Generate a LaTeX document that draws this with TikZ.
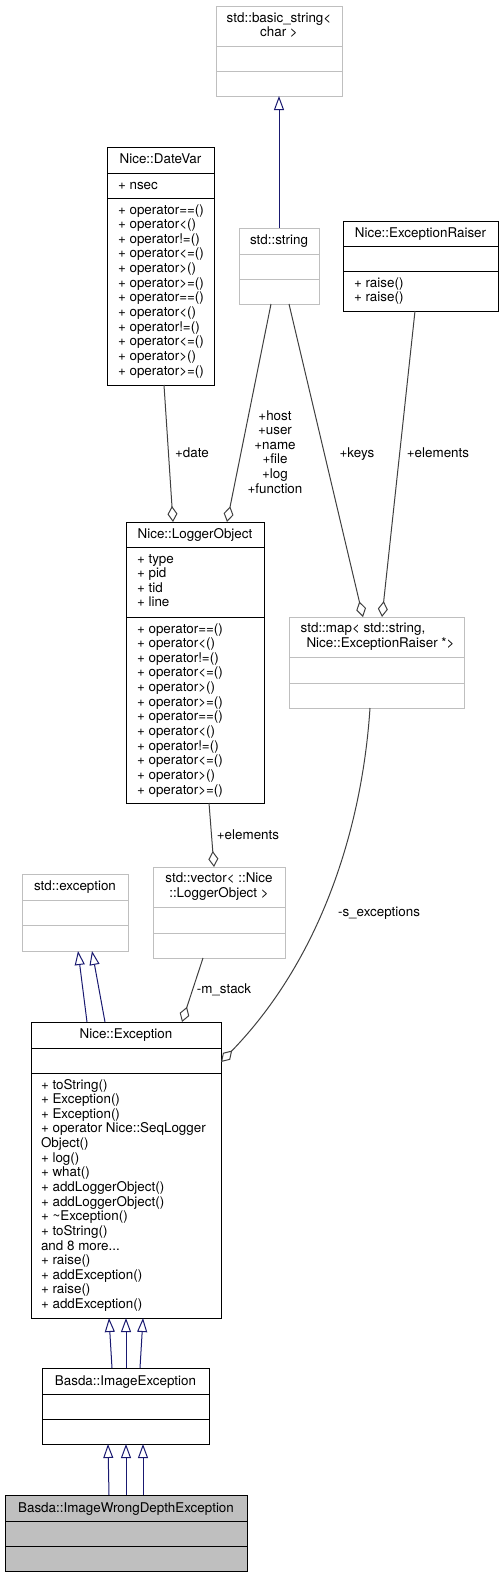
\documentclass[tikz,border=0pt]{standalone}
\usepackage{fontspec}
\setmainfont{TeX Gyre Heros}
\usetikzlibrary{arrows.meta,calc}
\definecolor{inhc}{HTML}{191970}
\definecolor{aggc}{HTML}{404040}
\definecolor{gbox}{HTML}{BFBFBF}
\definecolor{fillg}{HTML}{BFBFBF}
\tikzset{
  txt/.style={font=\fontsize{13.4}{14.64}\selectfont, inner sep=0pt, outer sep=0pt},
  ttl/.style={txt, anchor=base},
  mem/.style={txt, anchor=north west, align=left},
  lbl/.style={txt, anchor=base},
  mlbl/.style={txt, anchor=north, align=center},
  inhline/.style={draw=inhc, line width=1pt, -{Triangle[open, length=14pt, width=10pt]}},
  aggline/.style={draw=aggc, line width=1pt, -{Diamond[open, length=16pt, width=10pt]}},
}
% name, colour, fill, x, y, w, h, sep1, sep2
\newcommand{\umlbox}[9]{%
  \node[draw=#2, fill=#3, line width=1pt, inner sep=0pt, outer sep=0pt, anchor=north west,
        minimum width=#6pt, minimum height=#7pt] (#1) at (#4,#5) {};
  \draw[draw=#2, line width=1pt] (#1.west |- 0,#8) -- (#1.east |- 0,#8);
  \draw[draw=#2, line width=1pt] (#1.west |- 0,#9) -- (#1.east |- 0,#9);
}
\begin{document}
\begin{tikzpicture}[x=1pt,y=-1pt]
\useasboundingbox (0,0) rectangle (503,1577);

% std::basic_string<char>
\umlbox{bstr}{gbox}{white}{216}{6}{126}{90}{46}{71}
\node[ttl] (bstr-t1) at (279,22) {std::basic\_string<};
\node[ttl] (bstr-t2) at (279,36.6) {char >};

% Nice::DateVar
\umlbox{datevar}{black}{white}{107}{147}{107}{238}{173}{198}
\node[ttl] (datevar-t) at (160.5,163.5) {Nice::DateVar};
\node[mem] (datevar-a) at (118,178.75) {\strut+ nsec};
\node[mem] (datevar-m) at (118,203.75) {\strut+ operator==()\\+ operator<()\\+ operator!=()\\+ operator<=()\\+ operator>()\\+ operator>=()\\+ operator==()\\+ operator<()\\+ operator!=()\\+ operator<=()\\+ operator>()\\+ operator>=()};

% std::string
\umlbox{str}{gbox}{white}{239}{228}{80}{76}{254}{279}
\node[ttl] (str-t) at (279,244.5) {std::string};

% Nice::ExceptionRaiser
\umlbox{exr}{black}{white}{343}{221}{155}{90}{246}{271}
\node[ttl] (exr-t) at (420.5,237.5) {Nice::ExceptionRaiser};
\node[mem] (exr-m) at (354,276.75) {\strut+ raise()\\+ raise()};

% Nice::LoggerObject
\umlbox{logobj}{black}{white}{126}{522}{138}{281}{547}{617}
\node[ttl] (logobj-t) at (195,538.5) {Nice::LoggerObject};
\node[mem] (logobj-a) at (137,552.75) {\strut+ type\\+ pid\\+ tid\\+ line};
\node[mem] (logobj-m) at (137,622.75) {\strut+ operator==()\\+ operator<()\\+ operator!=()\\+ operator<=()\\+ operator>()\\+ operator>=()\\+ operator==()\\+ operator<()\\+ operator!=()\\+ operator<=()\\+ operator>()\\+ operator>=()};

% std::map
\umlbox{map}{gbox}{white}{289}{617}{175}{91}{657}{683}
\node[ttl] (map-t1) at (363,632.5) {std::map< std::string,};
\node[ttl] (map-t2) at (380.5,647.5) {Nice::ExceptionRaiser *>};

% std::vector
\umlbox{vec}{gbox}{white}{153}{867}{132}{91}{907}{933}
\node[ttl] (vec-t1) at (219,882.5) {std::vector< ::Nice};
\node[ttl] (vec-t2) at (219,897.3) {::LoggerObject >};

% std::exception
\umlbox{sexc}{gbox}{white}{22}{874}{106}{77}{900}{925}
\node[ttl] (sexc-t) at (75,890.5) {std::exception};

% Nice::Exception
\umlbox{exc}{black}{white}{31}{1022}{190}{296}{1048}{1073}
\node[ttl] (exc-t) at (126,1038.5) {Nice::Exception};
\node[mem] (exc-m) at (41,1078.75) {\strut+ toString()\\+ Exception()\\+ Exception()\\+ operator Nice::SeqLogger\\Object()\\+ log()\\+ what()\\+ addLoggerObject()\\+ addLoggerObject()\\+ \textasciitilde Exception()\\+ toString()\\and 8 more...\\+ raise()\\+ addException()\\+ raise()\\+ addException()};

% Basda::ImageException
\umlbox{imgexc}{black}{white}{42}{1368}{167}{76}{1394}{1419}
\node[ttl] (imgexc-t) at (125.5,1385) {Basda::ImageException};

% Basda::ImageWrongDepthException
\umlbox{iwde}{black}{fillg}{5}{1495}{242}{76}{1521}{1546}
\node[ttl] (iwde-t) at (126,1512) {Basda::ImageWrongDepthException};

% inheritance
\draw[inhline] (str.north) -- (bstr.south);
\draw[inhline] ([xshift=-39pt]exc.north) -- ([xshift=3pt]sexc.south);
\draw[inhline] ([xshift=-21pt]exc.north) -- ([xshift=17pt]sexc.south);
\draw[inhline] ([xshift=-13.5pt]imgexc.north) -- ([xshift=-17pt]exc.south);
\draw[inhline] ([xshift=0.5pt]imgexc.north) -- (exc.south);
\draw[inhline] ([xshift=14.5pt]imgexc.north) -- ([xshift=17pt]exc.south);
\draw[inhline] ([xshift=-17pt]iwde.north) -- ([xshift=-17.5pt]imgexc.south);
\draw[inhline] (iwde.north) -- ([xshift=0.5pt]imgexc.south);
\draw[inhline] ([xshift=17pt]iwde.north) -- ([xshift=17.5pt]imgexc.south);

% aggregation
\draw[aggline] ([xshift=3.5pt]datevar.south) -- ([xshift=-22pt]logobj.north);
\draw[aggline] ([xshift=-8pt]str.south) -- ([xshift=32pt]logobj.north);
\draw[aggline] ([xshift=10pt]str.south) -- ([xshift=-13.5pt]map.north);
\draw[aggline] ([xshift=-5.5pt]exr.south) -- ([xshift=5.5pt]map.north);
\draw[aggline] ([xshift=14pt]logobj.south) -- ([xshift=-5pt]vec.north);
\draw[aggline] ([xshift=-16pt]vec.south) -- ([xshift=56pt]exc.north);
\draw[aggline] ([xshift=-6.5pt]map.south) .. controls +(-8,122) and +(99,-102) .. ([yshift=-40pt]exc.north east);

% labels
\node[lbl] (l-date) at (192,457) {+date};
\node[mlbl] (l-host) at (275,409.75) {\strut+host\\+user\\+name\\+file\\+log\\+function};
\node[lbl] (l-keys) at (357,457) {+keys};
\node[lbl] (l-elem1) at (438,457) {+elements};
\node[lbl] (l-elem2) at (248,839) {+elements};
\node[lbl] (l-mstack) at (224,993) {-m\_stack};
\node[lbl] (l-sexc) at (379,916) {-s\_exceptions};
\end{tikzpicture}
\end{document}
